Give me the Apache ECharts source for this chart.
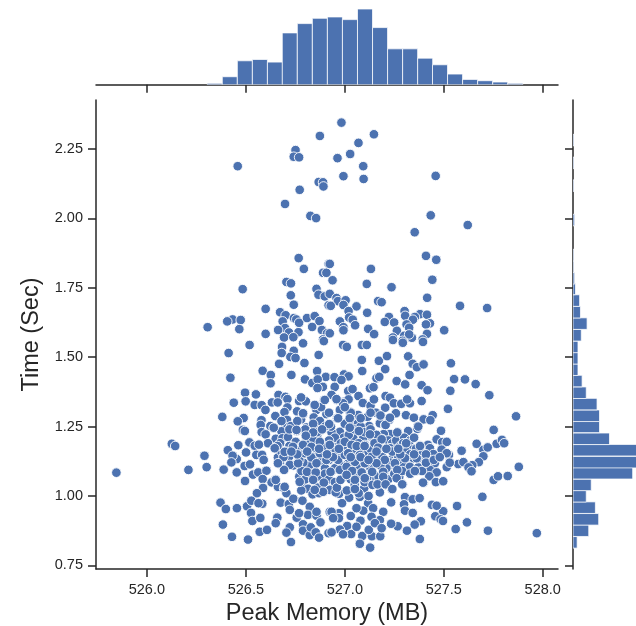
<!DOCTYPE html>
<html>
<head>
<meta charset="utf-8">
<title>Peak Memory vs Time</title>
<script src="https://cdn.jsdelivr.net/npm/echarts@6/dist/echarts.min.js"></script>
<style>
  html, body { margin: 0; padding: 0; background: #fff; }
  #main { width: 636px; height: 626px; }
</style>
</head>
<body>
<div id="main"></div>
<script>
// [peak memory MB, time sec]
const points = [
[526.874,2.297],[526.751,2.246],[526.742,2.222],[526.769,2.220],[526.459,2.188],[526.868,2.131],[526.890,2.130],[526.892,2.115],
[526.772,2.103],[526.698,2.052],[526.826,2.009],[526.855,2.001],[526.767,1.857],[526.793,1.818],[526.918,1.836],[526.890,1.804],
[526.907,1.804],[526.705,1.771],[526.728,1.766],[526.484,1.745],[526.857,1.746],[526.867,1.725],[526.899,1.719],[526.727,1.723],
[526.742,1.689],[526.600,1.674],[526.673,1.662],[526.701,1.651],[526.433,1.636],[526.406,1.629],[526.474,1.634],[526.307,1.608],
[526.467,1.601],[526.600,1.584],[526.686,1.629],[526.698,1.605],[526.663,1.598],[526.718,1.589],[526.766,1.590],[526.693,1.571],
[526.740,1.572],[526.743,1.641],[526.755,1.636],[526.769,1.624],[526.809,1.641],[526.848,1.648],[526.872,1.630],[526.835,1.609],
[526.884,1.598],[526.910,1.586],[526.890,1.564],[526.918,1.687],
[526.983,2.345],[527.147,2.303],[527.069,2.272],[527.027,2.232],[526.963,2.217],[527.093,2.188],[526.993,2.152],[527.095,2.142],
[527.459,2.153],[527.434,2.011],[527.621,1.976],[527.353,1.950],[527.410,1.865],[527.462,1.851],[526.924,1.836],[527.132,1.818],
[526.938,1.777],[527.111,1.764],[527.236,1.752],[527.442,1.779],[527.416,1.714],[526.924,1.728],[526.958,1.713],[526.965,1.702],
[527.004,1.705],[526.993,1.688],[527.059,1.683],[526.929,1.685],[527.168,1.702],[527.186,1.698],[527.582,1.685],[527.719,1.677],
[527.019,1.666],[527.113,1.660],[527.022,1.643],[527.040,1.635],[526.975,1.629],[527.052,1.615],[526.993,1.608],[526.993,1.597],
[527.118,1.602],[527.148,1.583],[526.924,1.586],[527.223,1.645],[527.202,1.627],[527.249,1.625],[527.302,1.666],[527.305,1.649],
[527.380,1.655],[527.415,1.653],[527.354,1.645],[527.344,1.635],[527.312,1.618],[527.325,1.606],[527.430,1.622],[527.410,1.618],
[527.263,1.595],[527.415,1.584],[527.502,1.597],[527.243,1.571],[527.300,1.577],[527.339,1.570],[527.393,1.564],[527.325,1.582],
[527.292,1.559],
[526.519,1.544],[526.413,1.515],[526.683,1.537],[526.681,1.515],[526.789,1.550],[526.742,1.523],[526.725,1.501],[526.751,1.497],
[526.868,1.508],[526.894,1.558],[526.668,1.476],[526.796,1.479],[526.585,1.451],[526.626,1.436],[526.730,1.436],[526.860,1.450],
[526.904,1.429],[526.422,1.426],[526.625,1.406],[526.799,1.420],[526.836,1.407],[526.863,1.420],[526.889,1.393],[526.862,1.389],
[526.496,1.372],[526.551,1.366],[526.439,1.336],[526.499,1.341],[526.545,1.328],[526.580,1.327],[526.599,1.310],[526.665,1.364],
[526.700,1.357],[526.710,1.349],[526.632,1.337],[526.661,1.337],[526.769,1.342],[526.803,1.341],[526.779,1.355],[526.710,1.319],
[526.695,1.302],[526.847,1.325],[526.895,1.345],[526.759,1.305],[526.789,1.294],[526.649,1.288],[526.579,1.273],[526.381,1.285],
[526.489,1.281],[526.459,1.269],[526.708,1.274],[526.779,1.276],[526.857,1.310],[526.843,1.283],[526.907,1.295],[526.874,1.270],
[526.575,1.256],[526.624,1.252],[526.641,1.244],[526.700,1.249],[526.728,1.252],[526.806,1.247],[526.847,1.244],[526.887,1.239],
[526.485,1.238],[526.495,1.234],[526.580,1.230],[526.600,1.222],[526.680,1.233],[526.757,1.234],[526.651,1.206],[526.685,1.208],
[526.673,1.190],[526.612,1.190],[526.646,1.172],[526.713,1.212],[526.752,1.195],[526.806,1.212],[526.860,1.217],[526.840,1.202],
[526.126,1.188],[526.143,1.180],[526.462,1.183],[526.518,1.193],[526.545,1.181],[526.566,1.185],[526.409,1.165],[526.501,1.157],
[526.454,1.133],[526.433,1.145],[526.553,1.148],[526.582,1.148],[526.590,1.130],[526.291,1.145],[526.302,1.104],[526.210,1.094],
[526.388,1.095],[525.846,1.084],[526.427,1.121],[526.454,1.085],[526.494,1.108],[526.521,1.114],[526.496,1.054],[526.536,1.077],
[526.563,1.085],[526.604,1.091],[526.650,1.059],[526.630,1.049],[526.585,1.061],[526.587,1.029],[526.556,1.010],[526.662,1.139],
[526.673,1.115],[526.695,1.096],[526.727,1.112],[526.718,1.141],[526.738,1.172],[526.794,1.155],[526.759,1.156],[526.662,1.033],
[526.693,1.028],[526.705,1.010],[526.777,1.090],[526.811,1.089],[526.855,1.086],[526.789,1.048],[526.840,1.057],[526.895,1.047],
[526.863,1.030],[526.814,1.026],[526.837,1.006],[526.831,1.138],[526.874,1.148],[526.910,1.157],[526.890,1.123],[526.823,1.177],
[526.372,0.976],[526.399,0.953],[526.455,0.956],[526.506,0.963],[526.528,0.983],[526.583,0.972],[526.564,0.974],[526.526,0.939],
[526.533,0.910],[526.573,0.921],[526.676,0.976],[526.717,0.971],[526.740,0.990],[526.786,0.983],[526.722,0.950],[526.823,0.961],
[526.814,0.932],[526.857,0.929],[526.857,0.943],[526.757,0.922],[526.769,0.938],[526.659,0.922],[526.651,0.902],[526.384,0.897],
[526.430,0.853],[526.511,0.843],[526.570,0.871],[526.607,0.878],[526.722,0.887],[526.705,0.868],[526.728,0.834],[526.789,0.898],
[526.789,0.875],[526.823,0.859],[526.828,0.887],[526.877,0.905],[526.853,0.869],[526.870,0.850],[526.918,0.866],[526.924,0.943],
[526.991,1.544],[527.010,1.537],[527.086,1.544],[527.111,1.544],[527.293,1.552],[527.395,1.555],[527.243,1.562],[527.086,1.490],
[527.172,1.487],[527.213,1.504],[527.320,1.503],[527.088,1.450],[527.204,1.457],[527.343,1.476],[527.364,1.464],[527.398,1.474],
[527.536,1.478],[527.327,1.436],[526.948,1.428],[526.996,1.438],[527.019,1.431],[527.160,1.424],[527.174,1.429],[527.262,1.414],
[527.305,1.402],[527.388,1.399],[527.418,1.381],[527.552,1.421],[527.607,1.420],[527.661,1.403],[527.533,1.379],[527.730,1.363],
[527.127,1.388],[527.145,1.392],[526.949,1.393],[526.983,1.418],[527.017,1.378],[527.039,1.385],[526.933,1.364],[526.958,1.346],
[526.995,1.339],[527.019,1.348],[527.069,1.360],[527.091,1.335],[527.130,1.325],[527.157,1.300],[527.204,1.318],[527.147,1.348],
[527.206,1.360],[527.228,1.354],[527.248,1.334],[527.285,1.332],[527.329,1.334],[527.315,1.348],[527.388,1.342],[527.521,1.314],
[527.865,1.287],[527.258,1.298],[527.309,1.291],[527.349,1.282],[527.398,1.276],[527.444,1.291],[527.432,1.273],[527.368,1.252],
[527.366,1.242],[527.486,1.235],[527.752,1.238],[527.115,1.285],[527.177,1.262],[527.204,1.255],[527.224,1.274],[527.123,1.252],
[526.961,1.280],[527.029,1.274],[527.067,1.292],[527.067,1.262],[526.975,1.310],[527.025,1.303],[526.991,1.334],[527.320,1.234],
[527.267,1.228],[527.228,1.223],[527.197,1.223],[527.464,1.204],[527.492,1.194],[527.515,1.195],[527.380,1.182],[527.420,1.184],
[527.430,1.172],[527.489,1.167],[527.666,1.188],[527.767,1.188],[527.794,1.202],[527.805,1.190],[527.700,1.166],[527.447,1.151],
[527.526,1.148],[527.515,1.154],[527.590,1.163],[527.700,1.143],[527.722,1.175],[527.292,1.190],[527.337,1.172],[527.253,1.166],
[527.189,1.205],[527.135,1.213],[527.071,1.231],[527.042,1.211],[526.975,1.231],[526.995,1.210],[526.933,1.229],[527.093,1.208],
[527.168,1.177],[527.219,1.175],[527.186,1.159],[527.106,1.177],[526.949,1.177],[527.017,1.180],[527.059,1.159],[526.975,1.148],
[527.127,1.148],[527.202,1.123],[527.244,1.148],[527.309,1.136],[527.346,1.136],[527.371,1.136],[527.420,1.132],[527.455,1.118],
[527.515,1.104],[527.573,1.115],[527.599,1.122],[527.677,1.122],[527.644,1.111],[527.625,1.103],[527.640,1.089],[527.879,1.105],
[527.266,1.094],[527.253,1.108],[527.295,1.112],[527.329,1.105],[527.371,1.103],[527.358,1.090],[527.430,1.094],[527.464,1.085],
[527.427,1.071],[527.398,1.047],[527.460,1.050],[527.497,1.053],[527.752,1.058],[527.774,1.071],[527.823,1.072],[527.275,1.069],
[527.292,1.042],[527.236,1.025],[527.206,1.040],[527.177,1.013],[527.162,1.042],[527.009,1.094],[527.085,1.087],[527.138,1.090],
[527.199,1.085],[527.152,1.069],[527.113,1.067],[527.062,1.067],[526.933,1.087],[526.980,1.060],[527.054,1.025],[527.098,1.028],
[526.971,1.008],[526.924,1.022],[526.954,1.013],[527.022,0.994],[527.076,0.997],[527.304,0.996],[527.343,0.988],[527.378,0.992],
[527.299,0.970],[527.234,0.977],[527.304,0.947],[527.343,0.939],[527.695,0.997],[527.567,0.964],[527.497,0.945],[527.440,0.968],
[527.464,0.965],[527.457,0.927],[527.484,0.916],[527.496,0.910],[527.617,0.905],[527.560,0.881],[527.723,0.875],[527.970,0.866],
[527.384,0.909],[527.353,0.897],[527.314,0.875],[527.267,0.891],[527.234,0.900],[527.379,0.845],[527.118,0.974],[527.143,0.956],
[527.194,0.943],[527.177,0.913],[527.135,0.925],[527.079,0.911],[527.093,0.947],[527.059,0.956],[527.030,0.928],[526.986,0.974],
[526.970,0.938],[526.970,0.920],[526.933,0.943],[526.941,0.920],[527.012,0.892],[526.975,0.879],[526.933,0.869],[527.032,0.863],
[526.991,0.862],[527.088,0.856],[527.137,0.855],[527.179,0.855],[527.121,0.878],[527.152,0.902],[527.186,0.884],[527.059,0.889],
[527.076,0.828],[527.128,0.814],
// dense middle, rougher reading
[527.00,1.26],[526.93,1.25],[526.95,1.21],[526.98,1.19],[527.02,1.22],[527.05,1.24],[527.08,1.25],[527.10,1.23],[527.13,1.24],
[527.15,1.20],[527.16,1.22],[526.92,1.20],[526.90,1.18],[526.93,1.16],[526.96,1.15],[526.99,1.17],[527.01,1.15],[527.04,1.17],
[527.07,1.19],[527.09,1.16],[527.11,1.15],[527.13,1.17],[527.15,1.19],[527.17,1.15],[527.19,1.14],[527.22,1.20],[527.24,1.19],
[527.26,1.20],[527.28,1.18],[527.30,1.21],[527.33,1.20],[527.35,1.21],[527.31,1.16],[527.33,1.15],[527.36,1.17],[527.39,1.15],
[527.41,1.15],[527.27,1.13],[527.23,1.12],[527.21,1.10],[527.18,1.11],[527.15,1.12],[527.13,1.10],[527.11,1.12],[527.08,1.12],
[527.06,1.11],[527.04,1.13],[527.02,1.12],[526.99,1.11],[526.97,1.12],[526.95,1.10],[526.92,1.13],[526.90,1.10],[526.88,1.14],
[526.86,1.16],[526.84,1.14],[526.82,1.11],[526.79,1.12],[526.77,1.13],[526.78,1.18],[526.80,1.19],[526.75,1.17],[526.72,1.18],
[526.70,1.16],[526.68,1.16],[526.66,1.18],[526.69,1.14],[526.74,1.11],[526.77,1.07],[526.80,1.06],[526.83,1.08],[526.87,1.07],
[526.90,1.08],[526.92,1.06],[526.95,1.05],[527.00,1.07],[527.03,1.06],[527.05,1.04],[527.10,1.05],[527.14,1.04],[527.17,1.07],
[527.22,1.06],[527.25,1.08],[527.29,1.09],[527.33,1.08],[527.39,1.09],[527.41,1.12],[527.45,1.13],[527.48,1.14],[527.53,1.12],
[526.86,1.23],[526.90,1.25],[526.84,1.26],[526.80,1.24],[526.76,1.27],[526.72,1.24],[526.68,1.27],[527.03,1.30],[527.08,1.28],
[527.13,1.30],[527.18,1.29],[526.92,1.30],[526.88,1.32],[527.00,1.32],[526.96,1.03],[527.01,1.02],[526.87,1.01],[526.78,1.02],
[527.07,1.01],[527.12,1.00],
[526.789,1.298],[526.848,1.328],[526.899,1.346],[526.958,1.349],[526.966,1.280],[526.921,1.259],[526.885,1.240],[526.840,1.229],
[526.803,1.217],[526.756,1.238],[526.641,1.246],[526.646,1.172],[526.738,1.177],[526.798,1.154],[526.831,1.139],[526.874,1.154],
[526.954,1.166],[526.907,1.130],[526.966,1.130],[526.722,1.112],[526.693,1.094],[526.781,1.090],[526.809,1.087],[526.853,1.085],
[526.928,1.087],[526.975,1.094],[526.651,1.058],[526.840,1.058],[526.894,1.048],[526.978,1.058],[526.696,1.033],[526.772,1.051],
[526.890,1.015],[526.848,1.022],[527.000,1.195],[526.789,1.184],[526.874,1.195],[526.831,1.177],[526.696,1.159],[526.662,1.118],
[526.764,1.118],[526.857,1.118],[527.009,1.105],[526.924,1.184],[527.000,1.148],[527.025,1.280],[527.025,1.246],[527.071,1.234],
[527.127,1.222],[527.186,1.204],[527.206,1.256],[527.228,1.282],[527.265,1.229],[527.371,1.250],[527.295,1.190],[527.101,1.184],
[527.168,1.174],[527.228,1.172],[527.034,1.184],[527.017,1.154],[527.076,1.148],[527.135,1.141],[527.202,1.130],[527.270,1.141],
[527.304,1.136],[527.363,1.136],[527.051,1.123],[527.101,1.118],[527.160,1.118],[527.253,1.118],[527.037,1.090],[527.085,1.085],
[527.138,1.087],[527.194,1.087],[527.265,1.094],[527.354,1.090],[527.262,1.064],[527.051,1.058],[527.101,1.064],[527.194,1.069],
[527.009,1.076],[527.165,1.042],[527.206,1.042],[527.240,1.025],[527.290,1.042],[527.395,1.048],[527.051,1.025],
[526.87,1.17],[526.94,1.14],[527.03,1.14],[527.08,1.14],[527.12,1.13],[527.24,1.16],[527.28,1.15],[527.21,1.17],[527.16,1.16],
[527.06,1.18],[526.97,1.17],[526.91,1.15],[526.81,1.16],[526.76,1.15],[526.73,1.16],[527.35,1.15],[527.38,1.18],[527.27,1.17],
[527.31,1.19],[527.10,1.18]
];

const memoryBins = [526.343,526.419,526.495,526.571,526.647,526.722,526.798,526.874,526.950,527.026,527.102,527.178,527.254,527.330,527.406,527.481,527.557,527.633,527.709,527.785,527.861];
const memoryCounts = [1,6,18,19,17,39,46,50,51,49,57,43,27,27,20,15,8,4,3,2,1];

const timeBins = [0.833,0.875,0.916,0.958,0.999,1.040,1.082,1.122,1.165,1.206,1.249,1.289,1.331,1.372,1.414,1.455,1.496,1.537,1.579,1.621,1.662,1.704,1.746,1.784,1.826,1.868,1.994,2.118,2.200,2.282];
const timeCounts = [5,19,31,27,16,22,72,80,80,44,32,32,29,16,11,6,6,6,10,17,9,8,3,2,1,1,2,1,1,1];

const xTicks = [526.0, 526.5, 527.0, 527.5, 528.0];
const yTicks = [0.75, 1.00, 1.25, 1.50, 1.75, 2.00, 2.25];

const memoryBinWidth = 0.0759;
const timeBinWidth = 0.0416;
const xRange = [525.743, 528.077];
const yRange = [0.737, 2.4265];

const ink = '#262626';
const blue = '#4c72b0';
const lineStyle = { color: ink, width: 1.5 };

function histBar(params, api, horizontal) {
  const c = api.value(0);
  const n = api.value(1);
  const half = (horizontal ? timeBinWidth : memoryBinWidth) / 2;
  const a = horizontal ? api.coord([0, c + half]) : api.coord([c - half, n]);
  const b = horizontal ? api.coord([n, c - half]) : api.coord([c + half, 0]);
  return {
    type: 'rect',
    shape: { x: a[0], y: a[1], width: b[0] - a[0], height: b[1] - a[1] },
    style: { fill: blue, stroke: 'rgba(255,255,255,0.75)', lineWidth: 1 }
  };
}

const myMain = echarts.init(document.getElementById('main'), null, { renderer: 'canvas' });
myMain.setOption({
  animation: false,
  backgroundColor: '#fff',
  textStyle: { fontFamily: 'Liberation Sans' },
  grid: [
    { left: 96, top: 100, width: 462, height: 469, outerBoundsMode: 'none' },
    { left: 96, top: 9, width: 462, height: 75.7, outerBoundsMode: 'none' },
    { left: 573, top: 100, width: 63, height: 469, outerBoundsMode: 'none' }
  ],
  xAxis: [
    {
      gridIndex: 0, type: 'value', min: xRange[0], max: xRange[1],
      name: 'Peak Memory (MB)', nameLocation: 'middle', nameGap: 33, nameMoveOverlap: false,
      nameTextStyle: { color: ink, fontSize: 23.5 },
      splitLine: { show: false },
      axisLine: { lineStyle },
      axisTick: { length: 8, lineStyle, customValues: xTicks },
      axisLabel: { color: ink, fontSize: 14.5, margin: 13, customValues: xTicks, formatter: v => v.toFixed(1) }
    },
    {
      gridIndex: 1, type: 'value', min: xRange[0], max: xRange[1],
      splitLine: { show: false },
      axisLine: { lineStyle },
      axisTick: { length: 8, lineStyle, customValues: xTicks },
      axisLabel: { show: false }
    },
    {
      gridIndex: 2, type: 'value', min: 0, max: 76,
      show: false
    }
  ],
  yAxis: [
    {
      gridIndex: 0, type: 'value', min: yRange[0], max: yRange[1],
      name: 'Time (Sec)', nameLocation: 'middle', nameGap: 52, nameRotate: 90, nameMoveOverlap: false,
      nameTextStyle: { color: ink, fontSize: 23.5 },
      splitLine: { show: false },
      axisLine: { lineStyle },
      axisTick: { length: 8, lineStyle, customValues: yTicks },
      axisLabel: { color: ink, fontSize: 14.5, margin: 13, customValues: yTicks, formatter: v => v.toFixed(2) }
    },
    {
      gridIndex: 1, type: 'value', min: 0, max: 57,
      show: false
    },
    {
      gridIndex: 2, type: 'value', min: yRange[0], max: yRange[1],
      splitLine: { show: false },
      axisLine: { lineStyle },
      axisTick: { length: 8, lineStyle, customValues: yTicks },
      axisLabel: { show: false }
    }
  ],
  series: [
    {
      type: 'scatter',
      xAxisIndex: 0,
      yAxisIndex: 0,
      data: points,
      symbolSize: 9.6,
      itemStyle: { color: blue, borderColor: '#fff', borderWidth: 0.9, opacity: 1 }
    },
    {
      type: 'custom',
      xAxisIndex: 1,
      yAxisIndex: 1,
      clip: true,
      data: memoryBins.map((b, i) => [b, memoryCounts[i]]),
      encode: { x: 0, y: 1 },
      renderItem: (params, api) => histBar(params, api, false)
    },
    {
      type: 'custom',
      xAxisIndex: 2,
      yAxisIndex: 2,
      clip: true,
      z: 1,
      data: timeBins.map((b, i) => [b, timeCounts[i]]),
      encode: { x: 1, y: 0 },
      renderItem: (params, api) => histBar(params, api, true)
    }
  ]
});
</script>
</body>
</html>
